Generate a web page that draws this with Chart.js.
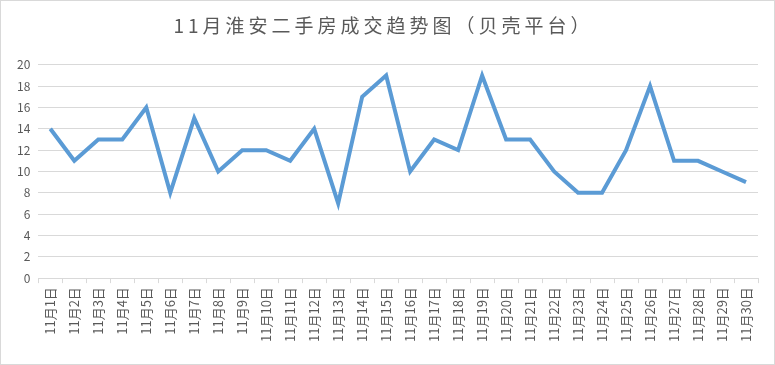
<!DOCTYPE html>
<html>
<head>
<meta charset="utf-8">
<script src="https://cdn.jsdelivr.net/npm/chart.js@4"></script>
<style>
  body { margin: 0; background: #fff; }
  #box { width: 773px; height: 363px; border: 1px solid #d9d9d9; }
</style>
</head>
<body>
<div id="box"><canvas id="trendCanvas" width="773" height="363"></canvas></div>
<script>
  var days = [];
  for (var i = 1; i <= 30; i++) days.push('11月' + i + '日');
  var deals = [14, 11, 13, 13, 16, 8, 15, 10, 12, 12, 11, 14, 7, 17, 19,
               10, 13, 12, 19, 13, 13, 10, 8, 8, 12, 18, 11, 11, 10, 9];
  var yTicks = [0, 2, 4, 6, 8, 10, 12, 14, 16, 18, 20];

  var ctx = document.getElementById('trendCanvas').getContext('2d');
  var chart = new Chart(ctx, {
    type: 'line',
    data: {
      labels: days,
      datasets: [{
        label: '成交',
        data: deals,
        borderColor: '#5b9bd5',
        borderWidth: 4,
        pointRadius: 0,
        tension: 0,
        fill: false
      }]
    },
    options: {
      responsive: false,
      animation: false,
      layout: { padding: { left: 8, right: 16, top: 6, bottom: 18 } },
      plugins: {
        legend: { display: false },
        tooltip: { enabled: false },
        title: {
          display: true,
          text: '11月淮安二手房成交趋势图（贝壳平台）',
          color: '#595959',
          font: { family: 'Noto Sans CJK SC', size: 19, weight: 'normal' },
          padding: { top: 7, bottom: 28 }
        }
      },
      scales: {
        x: {
          offset: true,
          grid: { display: true, drawOnChartArea: false, drawTicks: true, tickLength: 5, color: '#d9d9d9', offset: true },
          border: { display: true, color: '#d9d9d9' },
          ticks: {
            color: '#595959',
            font: { family: 'Noto Sans CJK SC', size: 13 },
            minRotation: 90,
            maxRotation: 90,
            autoSkip: false,
            padding: 4
          }
        },
        y: {
          min: 0,
          max: 20,
          afterBuildTicks: function (axis) {
            axis.ticks = yTicks.map(function (v) { return { value: v }; });
          },
          grid: { color: '#d9d9d9', drawTicks: false },
          border: { display: false },
          ticks: {
            color: '#595959',
            font: { family: 'Noto Sans CJK SC', size: 12 },
            padding: 8
          }
        }
      }
    }
  });

  // the title in the picture is spaced wide
  var titleDraw = chart.titleBlock.draw;
  chart.titleBlock.draw = function () {
    ctx.letterSpacing = '4px';
    titleDraw.apply(this, arguments);
    ctx.letterSpacing = '0px';
  };
  chart.draw();
</script>
</body>
</html>
